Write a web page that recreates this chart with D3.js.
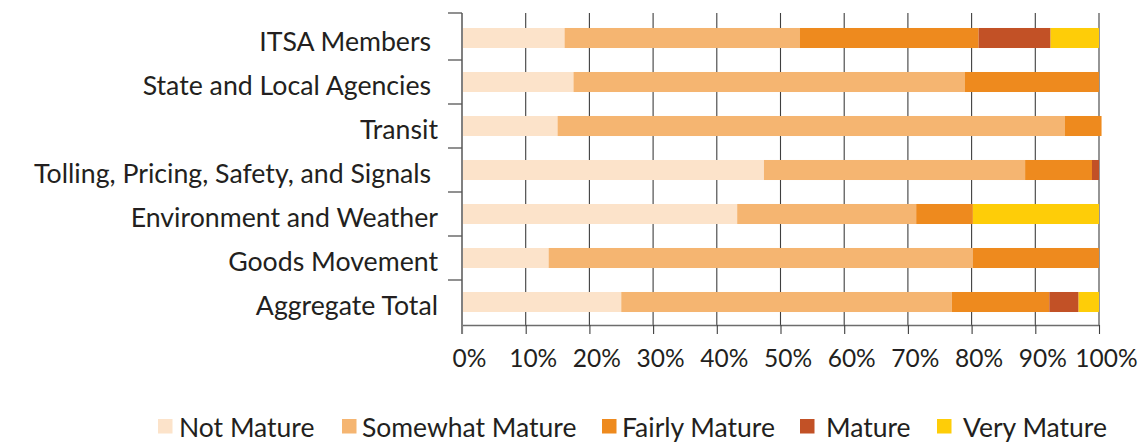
<!DOCTYPE html>
<html>
<head>
<meta charset="utf-8">
<script src="https://cdn.jsdelivr.net/npm/d3@7"></script>
<style>
  html, body { margin: 0; padding: 0; background: #fff; }
  svg { display: block; }
  text { font-family: Lato, "Open Sans", sans-serif; fill: #231f20; }
</style>
</head>
<body>
<svg id="chart" width="1142" height="444"></svg>
<script>
const categories = [
  "ITSA Members ",
  "State and Local Agencies ",
  "Transit",
  "Tolling, Pricing, Safety, and Signals ",
  "Environment and Weather",
  "Goods Movement",
  "Aggregate Total"
];
const seriesNames = ["Not Mature", "Somewhat Mature", "Fairly Mature", "Mature", "Very Mature"];
const notMature      = [16.1, 17.5, 15.0, 47.4, 43.2, 13.6, 25.0];
const somewhatMature = [36.9, 61.4, 79.6, 41.0, 28.1, 66.6, 51.9];
const fairlyMature   = [28.1, 21.1,  5.8, 10.5,  8.9, 19.8, 15.3];
const mature         = [11.3,  0.0,  0.0,  1.1,  0.0,  0.0,  4.6];
const veryMature     = [ 7.6,  0.0,  0.0,  0.0, 19.8,  0.0,  3.2];
const xTickValues = [0, 10, 20, 30, 40, 50, 60, 70, 80, 90, 100];
const xTickLabels = ["0%", "10%", "20%", "30%", "40%", "50%", "60%", "70%", "80%", "90%", "100%"];
const colors = ["#fce3ca", "#f5b571", "#ee8a1e", "#c25126", "#fecd08"];

const seriesValues = [notMature, somewhatMature, fairlyMature, mature, veryMature];
const rows = categories.map((c, i) => {
  const r = { category: c };
  seriesNames.forEach((s, j) => r[s] = seriesValues[j][i]);
  return r;
});

const svg = d3.select("#chart");
const x = d3.scaleLinear().domain([0, 100]).range([462, 1099]);
const y = d3.scaleBand().domain(categories).range([16, 324])
  .paddingInner(0.545).paddingOuter(0.2725);
const color = d3.scaleOrdinal().domain(seriesNames).range(colors);

const gridTop = 13, axisY = 325;

// gridlines
svg.append("g").selectAll("line").data(xTickValues).join("line")
  .attr("x1", d => x(d)).attr("x2", d => x(d))
  .attr("y1", gridTop).attr("y2", axisY)
  .attr("stroke", "#3f3f3f").attr("stroke-width", 1.1);

// stacked bars
const stacked = d3.stack().keys(seriesNames)(rows);
svg.append("g").selectAll("g").data(stacked).join("g")
  .attr("fill", d => color(d.key))
  .selectAll("rect").data(d => d.filter(p => p[1] - p[0] > 0)).join("rect")
  .attr("x", d => x(d[0]))
  .attr("width", d => x(d[1]) - x(d[0]))
  .attr("y", d => y(d.data.category))
  .attr("height", y.bandwidth());

// x axis
const xAxis = d3.axisBottom(x).tickValues(xTickValues)
  .tickFormat((d, i) => xTickLabels[i]).tickSize(9).tickSizeOuter(0);
const gx = svg.append("g").attr("transform", `translate(0,${axisY})`).call(xAxis);
gx.select(".domain").attr("stroke", "#6d6d6d").attr("stroke-width", 1.5);
gx.selectAll(".tick line").attr("stroke", "#3f3f3f").attr("stroke-width", 1.1);
gx.selectAll(".tick text").attr("y", 42).attr("dy", 0).attr("dx", 7)
  .style("font-family", "Lato, sans-serif").style("font-size", "24.5px").attr("fill", "#231f20");

// y axis (line + ticks at band boundaries)
const gy = svg.append("g");
gy.append("line").attr("x1", x(0)).attr("x2", x(0)).attr("y1", gridTop).attr("y2", axisY + 9)
  .attr("stroke", "#808080").attr("stroke-width", 2);
const step = y.step();
const boundaries = [gridTop].concat(categories.slice(1).map(c => y(c) - step * y.paddingInner() / 2));
gy.selectAll("line.tk").data(boundaries).join("line").attr("class", "tk")
  .attr("x1", x(0) - 14).attr("x2", x(0))
  .attr("y1", d => d).attr("y2", d => d)
  .attr("stroke", "#555").attr("stroke-width", 1.3);

// category labels
svg.append("g").selectAll("text").data(categories).join("text")
  .attr("x", 438)
  .attr("y", d => y(d) + y.bandwidth() / 2 + 12.5)
  .attr("text-anchor", "end")
  .style("white-space", "pre")
  .style("font-size", "26.7px")
  .text(d => d);

// legend
const legendSquareX = [158, 342, 602, 800, 937];
const legendTextX = [179, 362, 622, 826, 963];
const lg = svg.append("g").selectAll("g").data(seriesNames).join("g");
lg.append("rect")
  .attr("x", (d, i) => legendSquareX[i]).attr("y", 419)
  .attr("width", 14.5).attr("height", 14.5)
  .attr("fill", d => color(d));
lg.append("text")
  .attr("x", (d, i) => legendTextX[i]).attr("y", 437)
  .style("font-size", "26.5px")
  .text(d => d);
</script>
</body>
</html>
